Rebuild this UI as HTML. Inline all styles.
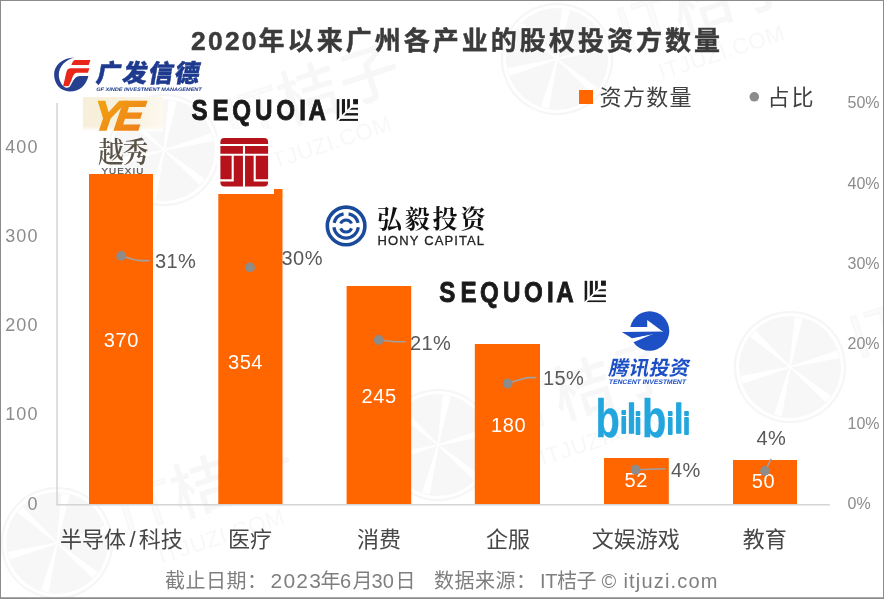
<!DOCTYPE html>
<html lang="zh">
<head>
<meta charset="utf-8">
<title>2020年以来广州各产业的股权投资方数量</title>
<style>
html,body{margin:0;padding:0;background:#fff;}
body{width:884px;height:599px;overflow:hidden;position:relative;}
svg{position:absolute;left:0;top:0;display:block;}
text{font-family:"Liberation Sans","Noto Sans CJK SC",sans-serif;}
.axl{font-size:18px;fill:#8c8c8c;letter-spacing:1.2px;}
.axr{font-size:16px;fill:#8c8c8c;letter-spacing:0px;}
.cat{font-size:22px;fill:#474747;}
.val{font-size:20px;fill:#fff;letter-spacing:0.6px;}
.pct{font-size:20px;fill:#595959;letter-spacing:0.4px;}
.ft{font-size:20px;fill:#7f7f7f;}
.wm{fill:#000;fill-opacity:0.032;}
.serif{font-family:"Liberation Serif","Noto Serif CJK SC",serif;}
</style>
</head>
<body>
<svg width="884" height="599" viewBox="0 0 884 599">
<defs>
<linearGradient id="ye" x1="0" y1="0" x2="1" y2="1">
<stop offset="0" stop-color="#f2a90f"/><stop offset="1" stop-color="#ee7a1c"/>
</linearGradient>
<linearGradient id="cream" x1="0" y1="0" x2="1" y2="0">
<stop offset="0" stop-color="#f7efd9"/><stop offset="0.6" stop-color="#f8f1df"/><stop offset="1" stop-color="#fcf9f0"/>
</linearGradient>
<linearGradient id="creamfade" x1="0" y1="0" x2="0" y2="1">
<stop offset="0" stop-color="#fff" stop-opacity="0"/><stop offset="1" stop-color="#fff" stop-opacity="1"/>
</linearGradient>
<clipPath id="leafA"><polygon points="0,0 22,0 22,-0.6 -0.6,22 0,22"/></clipPath>
<clipPath id="leafB"><polygon points="22,1.9 22,22 1.9,22"/></clipPath>
</defs>
<rect x="0" y="0" width="884" height="599" fill="#fff"/>
<!-- watermarks -->
<g transform="translate(57,543) rotate(-18)">
<circle cx="0" cy="0" r="55" fill="none" stroke="#000" stroke-opacity="0.035" stroke-width="2.4"/>
<circle cx="0" cy="0" r="51" fill="#000" fill-opacity="0.03"/>
<g fill="#fff">
<polygon points="0,0 -1,0.6 50,4 50,-4 -1,-0.6" transform="rotate(3)"/>
<polygon points="0,0 -1,0.6 50,4 50,-4 -1,-0.6" transform="rotate(58)"/>
<polygon points="0,0 -1,0.6 50,4 50,-4 -1,-0.6" transform="rotate(122)"/>
<polygon points="0,0 -1,0.6 50,4 50,-4 -1,-0.6" transform="rotate(183)"/>
<polygon points="0,0 -1,0.6 50,4 50,-4 -1,-0.6" transform="rotate(240)"/>
<polygon points="0,0 -1,0.6 50,4 50,-4 -1,-0.6" transform="rotate(298)"/>
</g>
<text class="wm" x="67" y="14" font-size="62" font-weight="500" letter-spacing="1"><tspan fill-opacity="0.014" stroke="#000" stroke-opacity="0.022" stroke-width="1.6">IT</tspan>桔子</text>
<text class="wm" x="93" y="52" font-size="22.5" letter-spacing="0.5">ITJUZI.COM</text>
</g>
<g transform="translate(164,150) rotate(-18)">
<circle cx="0" cy="0" r="55" fill="none" stroke="#000" stroke-opacity="0.035" stroke-width="2.4"/>
<circle cx="0" cy="0" r="51" fill="#000" fill-opacity="0.03"/>
<g fill="#fff">
<polygon points="0,0 -1,0.6 50,4 50,-4 -1,-0.6" transform="rotate(3)"/>
<polygon points="0,0 -1,0.6 50,4 50,-4 -1,-0.6" transform="rotate(58)"/>
<polygon points="0,0 -1,0.6 50,4 50,-4 -1,-0.6" transform="rotate(122)"/>
<polygon points="0,0 -1,0.6 50,4 50,-4 -1,-0.6" transform="rotate(183)"/>
<polygon points="0,0 -1,0.6 50,4 50,-4 -1,-0.6" transform="rotate(240)"/>
<polygon points="0,0 -1,0.6 50,4 50,-4 -1,-0.6" transform="rotate(298)"/>
</g>
<text class="wm" x="67" y="14" font-size="62" font-weight="500" letter-spacing="1"><tspan fill-opacity="0.014" stroke="#000" stroke-opacity="0.022" stroke-width="1.6">IT</tspan>桔子</text>
<text class="wm" x="93" y="52" font-size="22.5" letter-spacing="0.5">ITJUZI.COM</text>
</g>
<g transform="translate(438,445) rotate(-18)">
<circle cx="0" cy="0" r="55" fill="none" stroke="#000" stroke-opacity="0.035" stroke-width="2.4"/>
<circle cx="0" cy="0" r="51" fill="#000" fill-opacity="0.03"/>
<g fill="#fff">
<polygon points="0,0 -1,0.6 50,4 50,-4 -1,-0.6" transform="rotate(3)"/>
<polygon points="0,0 -1,0.6 50,4 50,-4 -1,-0.6" transform="rotate(58)"/>
<polygon points="0,0 -1,0.6 50,4 50,-4 -1,-0.6" transform="rotate(122)"/>
<polygon points="0,0 -1,0.6 50,4 50,-4 -1,-0.6" transform="rotate(183)"/>
<polygon points="0,0 -1,0.6 50,4 50,-4 -1,-0.6" transform="rotate(240)"/>
<polygon points="0,0 -1,0.6 50,4 50,-4 -1,-0.6" transform="rotate(298)"/>
</g>
<text class="wm" x="67" y="14" font-size="62" font-weight="500" letter-spacing="1"><tspan fill-opacity="0.014" stroke="#000" stroke-opacity="0.022" stroke-width="1.6">IT</tspan>桔子</text>
<text class="wm" x="93" y="52" font-size="22.5" letter-spacing="0.5">ITJUZI.COM</text>
</g>
<g transform="translate(557,59) rotate(-18)">
<circle cx="0" cy="0" r="55" fill="none" stroke="#000" stroke-opacity="0.035" stroke-width="2.4"/>
<circle cx="0" cy="0" r="51" fill="#000" fill-opacity="0.03"/>
<g fill="#fff">
<polygon points="0,0 -1,0.6 50,4 50,-4 -1,-0.6" transform="rotate(3)"/>
<polygon points="0,0 -1,0.6 50,4 50,-4 -1,-0.6" transform="rotate(58)"/>
<polygon points="0,0 -1,0.6 50,4 50,-4 -1,-0.6" transform="rotate(122)"/>
<polygon points="0,0 -1,0.6 50,4 50,-4 -1,-0.6" transform="rotate(183)"/>
<polygon points="0,0 -1,0.6 50,4 50,-4 -1,-0.6" transform="rotate(240)"/>
<polygon points="0,0 -1,0.6 50,4 50,-4 -1,-0.6" transform="rotate(298)"/>
</g>
<text class="wm" x="67" y="14" font-size="62" font-weight="500" letter-spacing="1"><tspan fill-opacity="0.014" stroke="#000" stroke-opacity="0.022" stroke-width="1.6">IT</tspan>桔子</text>
<text class="wm" x="93" y="52" font-size="22.5" letter-spacing="0.5">ITJUZI.COM</text>
</g>
<g transform="translate(790,367) rotate(-18)">
<circle cx="0" cy="0" r="55" fill="none" stroke="#000" stroke-opacity="0.035" stroke-width="2.4"/>
<circle cx="0" cy="0" r="51" fill="#000" fill-opacity="0.03"/>
<g fill="#fff">
<polygon points="0,0 -1,0.6 50,4 50,-4 -1,-0.6" transform="rotate(3)"/>
<polygon points="0,0 -1,0.6 50,4 50,-4 -1,-0.6" transform="rotate(58)"/>
<polygon points="0,0 -1,0.6 50,4 50,-4 -1,-0.6" transform="rotate(122)"/>
<polygon points="0,0 -1,0.6 50,4 50,-4 -1,-0.6" transform="rotate(183)"/>
<polygon points="0,0 -1,0.6 50,4 50,-4 -1,-0.6" transform="rotate(240)"/>
<polygon points="0,0 -1,0.6 50,4 50,-4 -1,-0.6" transform="rotate(298)"/>
</g>
<text class="wm" x="67" y="14" font-size="62" font-weight="500" letter-spacing="1"><tspan fill-opacity="0.014" stroke="#000" stroke-opacity="0.022" stroke-width="1.6">IT</tspan>桔子</text>
<text class="wm" x="93" y="52" font-size="22.5" letter-spacing="0.5">ITJUZI.COM</text>
</g>
<!-- title -->
<text y="49.6" font-size="26" font-weight="bold" fill="#3b3b3b" stroke="#3b3b3b" stroke-width="0.45" letter-spacing="3.03"><tspan x="191" font-size="26.5" letter-spacing="2.2">2020</tspan><tspan x="258.6">年以来广州各产业的股权投资方数量</tspan></text>
<!-- axes -->
<rect x="56.3" y="103" width="1.5" height="402" fill="#d4d4d4"/>
<rect x="56.3" y="504" width="773.5" height="1.5" fill="#d4d4d4"/>
<g class="axl" text-anchor="end">
<text x="38.8" y="152.6">400</text>
<text x="38.8" y="241.9">300</text>
<text x="38.8" y="331.1">200</text>
<text x="38.8" y="420.4">100</text>
<text x="38.8" y="509.6">0</text>
</g>
<g class="axr">
<text x="847.5" y="108.3">50%</text>
<text x="847.5" y="188.5">40%</text>
<text x="847.5" y="268.7">30%</text>
<text x="847.5" y="348.9">20%</text>
<text x="847.5" y="429.1">10%</text>
<text x="847.5" y="509.3">0%</text>
</g>
<!-- bars -->
<g fill="#ff6600">
<rect x="89" y="174" width="64" height="330"/>
<rect x="218.3" y="189" width="64.2" height="315"/>
<rect x="346.6" y="286" width="64.6" height="218"/>
<rect x="474.8" y="344" width="65.2" height="160"/>
<rect x="604" y="458" width="64.8" height="46"/>
<rect x="733" y="460" width="64" height="44"/>
</g>
<g class="val" text-anchor="middle">
<text x="121.4" y="346.8">370</text>
<text x="245.5" y="368.8">354</text>
<text x="379.2" y="403">245</text>
<text x="508.6" y="432.4">180</text>
<text x="636.2" y="487">52</text>
<text x="763.4" y="488">50</text>
</g>
<g class="cat" text-anchor="middle">
<text x="121.5" y="547">半导体<tspan dx="3.3">/</tspan><tspan dx="3.3">科技</tspan></text>
<text x="250" y="547">医疗</text>
<text x="379" y="547">消费</text>
<text x="508" y="547">企服</text>
<text x="635.8" y="547">文娱游戏</text>
<text x="764.8" y="547">教育</text>
</g>
<!-- leader lines and markers -->
<g fill="none" stroke="#a0a0a0" stroke-width="1.6" stroke-linecap="round">
<path d="M121.2 255.9 C130 258 134 260.6 141 260.6 L149 260.6"/>
<path d="M378.8 340 C386 340.5 392 341.8 397 341.8 L405.3 341.8"/>
<path d="M507.6 383.5 C516 381 524 377.6 529 377.6 L535.6 377.6"/>
<path d="M635.6 469.7 L665 468.8"/>
<path d="M765 470.9 L770.9 459.4"/>
</g>
<g fill="#8c8c8c">
<circle cx="121.2" cy="255.9" r="4.9"/>
<circle cx="250" cy="267.4" r="4.9"/>
<circle cx="378.8" cy="340" r="4.9"/>
<circle cx="507.6" cy="383.5" r="4.9"/>
<circle cx="635.6" cy="469.7" r="4.9"/>
<circle cx="765" cy="470.9" r="4.9"/>
</g>
<g class="pct">
<text x="155" y="267.6">31%</text>
<text x="281.6" y="264.7">30%</text>
<text x="410" y="350">21%</text>
<text x="543" y="384.7">15%</text>
<text x="671" y="477">4%</text>
<text x="756.4" y="445.3">4%</text>
</g>
<!-- legend -->
<rect x="579" y="90" width="14" height="14" fill="#ff6600"/>
<text x="599.6" y="104.7" font-size="22" fill="#404040" letter-spacing="1.3">资方数量</text>
<circle cx="754.3" cy="96.8" r="4.8" fill="#8c8c8c"/>
<text x="767.6" y="104.7" font-size="22" fill="#404040" letter-spacing="1.8">占比</text>
<!-- footer -->
<g class="ft">
<text x="165" y="588" textLength="102" lengthAdjust="spacing">截止日期：</text>
<text y="588"><tspan x="270.6" font-size="21" letter-spacing="1.2">2023</tspan><tspan x="320.6">年</tspan><tspan x="340">6</tspan><tspan x="352.5">月</tspan><tspan x="371.6">30</tspan><tspan x="395.6">日</tspan></text>
<text x="434" y="588" textLength="102" lengthAdjust="spacing">数据来源：</text>
<text x="540" y="588" textLength="56.5" lengthAdjust="spacing">IT桔子</text>
<text x="601.5" y="588">©</text>
<text x="623.4" y="588" textLength="94" lengthAdjust="spacing">itjuzi.com</text>
</g>
<!-- GF Xinde logo -->
<g>
<path d="M74.5 57.4 C62 57.6 54 65.5 54.1 74.5 C54.2 84.5 61 91.3 69.5 91.4 C79 91.5 86 86 88.4 76 L79.7 76 C76.5 76.3 74.6 78.3 73.3 80.6 L70.5 85.6 C69.6 87.6 67.5 88.2 65.4 87.6 C61.6 85.5 58.7 80 58.8 74.5 C59 66.5 65.5 59.5 74.5 57.4 Z" fill="#263f8f"/>
<path d="M74.8 59.9 L90.5 59.9 L88.7 65.1 L71.4 65.1 C72 62.5 73 60.6 74.8 59.9 Z" fill="#e8261a"/>
<path d="M70.2 68.2 L89.4 68.2 L87.9 72.7 L77 72.7 C73.6 73 72.4 77 71.4 80.6 L68.8 86 L63.1 86.3 L66.2 73 C66.8 70 68 68.4 70.2 68.2 Z" fill="#e8261a"/>
<text transform="translate(95.2,81.8) skewX(-10)" font-size="24.6" font-weight="900" fill="#1d3a8f" stroke="#1d3a8f" stroke-width="0.5" letter-spacing="1.6">广发信德</text>
<text transform="translate(96,90.6) skewX(-12)" font-size="5" font-weight="bold" fill="#1d3a8f" textLength="105.5" lengthAdjust="spacingAndGlyphs">GF XINDE INVESTMENT MANAGEMENT</text>
</g>
<!-- Yuexiu logo -->
<g>
<rect x="82.9" y="97" width="80.2" height="34" fill="url(#cream)"/>
<rect x="82.9" y="126" width="80.2" height="5.2" fill="url(#creamfade)"/>
<text transform="translate(91.2,129.8) skewX(-8) scale(1.0,1)" font-size="41.5" font-weight="bold" font-style="italic" fill="url(#ye)" stroke="url(#ye)" stroke-width="1.6" letter-spacing="-5">YE</text>
<text transform="translate(122.4,163) scale(1,1.12)" text-anchor="middle" class="serif" font-size="26" font-weight="600" fill="#5a5246" letter-spacing="-1.6">越秀</text>
<text x="101.4" y="174.2" font-size="9.8" fill="#555" stroke="#555" stroke-width="0.25" textLength="42" lengthAdjust="spacing">YUEXIU</text>
</g>
<!-- redraw bar 1 top over YUEXIU baseline overlap -->
<rect x="89" y="174" width="64" height="3" fill="#ff6600"/>
<!-- Sequoia 1 -->
<g>
<text transform="translate(191.4,120.3) scale(0.8,1)" x="0.0 26.5 51.0 79.6 106.1 134.8 146.4" font-size="30.2" font-weight="bold" fill="#1a1a1a" stroke="#1a1a1a" stroke-width="0.9">SEQUOIA</text>
<g transform="translate(336.5,99.1)">
<g clip-path="url(#leafA)" fill="#1a1a1a">
<rect x="0" y="0" width="2.8" height="22"/>
<rect x="5.4" y="0" width="3.1" height="22"/>
<rect x="10.7" y="0" width="2.7" height="22"/>
</g>
<rect x="16.6" y="0" width="4.9" height="5.2" fill="#1a1a1a"/>
<g clip-path="url(#leafB)" fill="#1a1a1a">
<rect x="0" y="8.7" width="21.5" height="1.9"/>
<rect x="0" y="14" width="21.5" height="2.4"/>
<rect x="0" y="19.8" width="21.5" height="2"/>
</g>
</g>
</g>
<!-- red seal logo -->
<g>
<rect x="217" y="129" width="57" height="65" fill="#fff"/>
<rect x="220.4" y="138.1" width="47.7" height="48.3" rx="4" fill="#b5121b"/>
<g fill="none" stroke="#fff" stroke-width="2.1">
<path d="M220 145 L268.5 145"/>
<path d="M220 154.7 L268.5 154.7"/>
<path d="M244 145 L244 186.8"/>
<path d="M232.7 154.7 L232.7 180.4 L220 180.4"/>
<path d="M254.7 154.7 L254.7 180.4 L268.5 180.4"/>
</g>
</g>
<!-- Hony Capital -->
<g>
<g fill="none" stroke="#1a4b9b">
<circle cx="346.1" cy="225.9" r="18.8" stroke-width="3.6"/>
<path d="M333.9 227.3 A12.3 12.3 0 0 0 358.3 227.3" stroke-width="3.2"/>
<path d="M334.1 222.8 A12.3 12.3 0 0 1 343.6 213.9" stroke-width="3.2"/>
<path d="M348.6 213.9 A12.3 12.3 0 0 1 358.1 222.8" stroke-width="3.2"/>
<path d="M340.6 223.5 A6 6 0 0 1 351.6 223.5" stroke-width="3"/>
<path d="M340.6 228.3 A6 6 0 0 0 351.6 228.3" stroke-width="3"/>
</g>
<text x="377" y="228.4" class="serif" font-size="25" font-weight="700" fill="#111" letter-spacing="2.8">弘毅投资</text>
<text x="377.6" y="245" font-size="13" fill="#222" stroke="#222" stroke-width="0.3" textLength="106.5" lengthAdjust="spacing">HONY CAPITAL</text>
</g>
<!-- Sequoia 2 -->
<g>
<text transform="translate(439.2,301.8) scale(0.8,1)" x="0.0 26.5 51.0 79.6 106.1 134.8 146.4" font-size="30.2" font-weight="bold" fill="#1a1a1a" stroke="#1a1a1a" stroke-width="0.9">SEQUOIA</text>
<g transform="translate(584.4,280.6)">
<g clip-path="url(#leafA)" fill="#1a1a1a">
<rect x="0" y="0" width="2.8" height="22"/>
<rect x="5.4" y="0" width="3.1" height="22"/>
<rect x="10.7" y="0" width="2.7" height="22"/>
</g>
<rect x="16.6" y="0" width="4.9" height="5.2" fill="#1a1a1a"/>
<g clip-path="url(#leafB)" fill="#1a1a1a">
<rect x="0" y="8.7" width="21.5" height="1.9"/>
<rect x="0" y="14" width="21.5" height="2.4"/>
<rect x="0" y="19.8" width="21.5" height="2"/>
</g>
</g>
</g>
<!-- Tencent Investment -->
<g>
<circle cx="649.6" cy="331" r="19.7" fill="#1e50c5"/>
<polygon points="628,327 647.2,327 647.2,319.9 663.4,331.9 628,331.9" fill="#fff"/>
<polygon points="653.5,333.7 630,338.3 633.5,342.2" fill="#fff"/>
<polygon points="621.8,332 663.4,331.6 653.3,334 632,338.3" fill="#1e50c5"/>
<text transform="translate(608,374.5) skewX(-12)" font-size="20" font-weight="bold" fill="#1e50c5" letter-spacing="0.2">腾讯投资</text>
<text transform="translate(608.6,384.2) skewX(-12)" font-size="6.6" font-weight="bold" fill="#1e50c5" textLength="77" lengthAdjust="spacingAndGlyphs">TENCENT INVESTMENT</text>
</g>
<!-- bilibili -->
<g>
<text transform="scale(0.75,1)" font-weight="bold" fill="#23a6de" stroke="#23a6de" stroke-linejoin="round" stroke-width="0.4"><tspan x="794.0" y="437" font-size="53">b</tspan><tspan x="827.6" y="433" font-size="29" stroke-width="2.2">i</tspan><tspan x="836.3" y="433" font-size="41" stroke-width="1.4">l</tspan><tspan x="846.7" y="434" font-size="29" stroke-width="2.2">i</tspan><tspan x="856.1" y="437" font-size="53" stroke-width="0.4">b</tspan><tspan x="889.6" y="434" font-size="29" stroke-width="2.2">i</tspan><tspan x="899.3" y="433.5" font-size="41" stroke-width="1.4">l</tspan><tspan x="911.2" y="434" font-size="29" stroke-width="2.2">i</tspan></text>
</g>
<!-- border -->
<rect x="0.5" y="0.5" width="883" height="597.5" fill="none" stroke="#8c8c8c" stroke-width="1"/>
<rect x="0" y="597.5" width="884" height="1.5" fill="#8c8c8c"/>
</svg>
</body>
</html>
